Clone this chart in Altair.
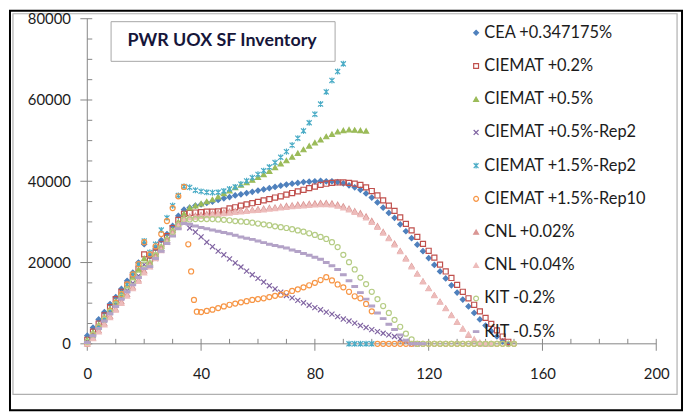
import altair as alt
import pandas as pd

# ---------------- data ----------------
SERIES = [
    "CEA +0.347175%", "CIEMAT +0.2%", "CIEMAT +0.5%", "CIEMAT +0.5%-Rep2",
    "CIEMAT +1.5%-Rep2", "CIEMAT +1.5%-Rep10", "CNL +0.02%", "CNL +0.04%",
    "KIT -0.2%", "KIT -0.5%",
]
STROKES = ["#4F81BD", "#C0504D", "#9BBB59", "#8064A2", "#4BACC6",
           "#F79646", "#DA9694", "#EDBCBB", "#B5CC84", "#B3A2C7"]
FILLS = ["#4F81BD", "transparent", "#9BBB59", "#8064A2", "#4BACC6",
         "transparent", "#DA9694", "#EDBCBB", "transparent", "#B3A2C7"]
X_PATH = "M-1,-1L1,1M-1,1L1,-1"
STAR_PATH = "M-1,-1L1,1M-1,1L1,-1M0,-1.2L0,1.2"
DASH_PATH = "M-1.1,-0.35L1.1,-0.35L1.1,0.35L-1.1,0.35Z"
SHAPES = ["diamond", "square", "triangle-up", X_PATH, STAR_PATH,
          "circle", "triangle-up", "triangle-up", "circle", DASH_PATH]

# values every 2 years starting at year 0
CEA = [2000, 4000, 6000, 7800, 9800, 11500, 13500, 15500, 17500, 20000, 24500, 21500,
       23500, 25500, 27000, 29000, 31500, 33000,
       33500, 34000, 34300, 34700, 35000, 35400, 35800, 36100, 36500, 36800, 37100, 37400,
       37700, 38000, 38300, 38600, 38900, 39200, 39400, 39600, 39800, 39900, 40000, 40100,
       40000, 40000, 39800, 39500, 39000, 38500, 37900, 37000, 36000, 34800, 33500, 32200,
       31000, 29400, 27700, 26000, 24400, 22800, 21100, 19400, 17800, 16100, 14400, 12600,
       10900, 9200, 7600, 6000, 4500, 3100, 1800, 600, 0]
CIEMAT_02 = [1000, 3000, 5000, 7000, 9000, 11000, 12800, 14500, 16500, 18500, 22000, 20500,
             22500, 24500, 26500, 28500, 30500, 32000,
             32200, 32300, 32400, 32500, 32500, 32600, 32800, 33300, 33600, 34000, 34300, 34600,
             34900, 35300, 35600, 36000, 36300, 36700, 37100, 37500, 37900, 38300, 38700, 39100,
             39400, 39600, 39700, 39700, 39600, 39400, 39100, 38500, 37600, 36500, 35300, 34000,
             32700, 31100, 29500, 27900, 26300, 24600, 22900, 21200, 19500, 17800, 16200, 14500,
             12800, 11200, 9600, 8000, 6400, 4900, 3300, 1800, 500]
CIEMAT_05 = [1000, 2800, 4700, 6600, 8600, 10500, 12400, 14300, 16300, 18300, 21000, 20000,
             22000, 24000, 26000, 28000, 30000, 32000,
             33500, 34000, 34500, 35000, 35500, 36200, 37000, 37700, 38500, 39100, 39700, 40300,
             41000, 41700, 42500, 43400, 44300, 45100, 46000, 46900, 47800, 48700, 49500, 50200,
             51000, 51600, 52200, 52500, 52700, 52600, 52500, 52400]
CIEMAT_05_REP2 = [500, 2300, 4100, 5900, 7700, 9500, 11300, 13100, 14900, 16700, 19500, 19000,
                  21000, 23000, 25000, 27000, 29000, 29800,
                  28500, 27500, 26300, 25000, 23900, 22800, 21900, 20900, 19900, 18900, 17900,
                  17000, 16100, 15200, 14300, 13500, 12700, 11900, 11300, 10700, 10100, 9500,
                  8900, 8400,
                  7800, 7300, 6700, 6100, 5600, 5100, 4500, 4000, 3500, 3000, 2600, 2200, 1800,
                  1200, 600, 0, 0]
CIEMAT_15_REP2 = [0, 2000, 4000, 6000, 8000, 10000, 12000, 14500, 17000, 19500, 25300, 22500,
                  24500, 28000, 31000, 34000, 36500, 38700,
                  38500, 37800, 37500, 37300, 37200, 37300, 37600, 38100, 38600, 39300, 40100,
                  40900, 41700, 42600, 43500, 44600, 45900, 47300, 48900, 50600, 52400, 54400,
                  56500, 59000,
                  62000, 64800, 67000, 68900, 0, 0, 0, 0, 0]
# Rep10: years 0..34, then a fast drop, then years 40..150
REP10_EARLY = [0, 2100, 4100, 6100, 8100, 10100, 12200, 14600, 17100, 19600, 25000, 22000,
               24000, 27000, 30200, 33400, 36300, 38600]
REP10_DROP_YEARS = [35.5, 36.5, 37.5, 38.5]
REP10_DROP = [24500, 17800, 10800, 7900]
REP10_LATE = [7800, 8100, 8400, 8800, 9200, 9600, 9900, 10200, 10500, 10800, 11000, 11200,
              11500, 11800, 12100, 12500, 13000, 13400, 13900, 14400, 15000, 15700, 16400,
              15600, 14600, 13900, 12800, 11700, 11200, 9800, 8000,
              0, 0, 0, 0, 0, 0, 0, 0, 0, 0, 0, 0, 0, 0, 0, 0, 0, 0, 0, 0, 0, 0, 0, 0, 0]
CNL_002 = [0, 1500, 3300, 5000, 6800, 8600, 10400, 12200, 14000, 15800, 18000, 19500,
           21500, 23500, 25500, 27500, 29500, 31000,
           31400, 31600, 31800, 32000, 32100, 32300, 32400, 32600, 32700, 32800, 32900, 33000,
           33200, 33300, 33500, 33600, 33800, 34000, 34100, 34300, 34400, 34500, 34600, 34700,
           34700, 34600, 34300, 33900, 33300, 32700, 32200, 31400, 30300, 29000, 27600, 26100,
           24700, 22900, 21100, 19200, 17300, 15400, 13700, 12000, 10400, 8800, 7100, 5400,
           3700, 2200, 1000, 200, 0]
CNL_004 = [0, 1300, 3000, 4700, 6500, 8300, 10000, 11800, 13600, 15400, 17500, 19000,
           21000, 23000, 25000, 27000, 29000, 30500,
           31000, 31200, 31400, 31600, 31800, 31900, 32100, 32200, 32400, 32500, 32600, 32800,
           32900, 33000, 33200, 33300, 33500, 33600, 33800, 33900, 34000, 34100, 34200, 34300,
           34300, 34200, 33900, 33500, 33000, 32400, 31800, 31000, 29900, 28700, 27300, 25900,
           24400, 22700, 20900, 19000, 17200, 15300, 13600, 11900, 10300, 8700, 7000, 5400,
           3800, 2400, 1200, 400, 0, 0]
KIT_02 = [500, 2300, 4200, 6000, 7900, 9700, 11600, 13400, 15300, 17100, 19500, 19800,
          21800, 23700, 25600, 27500, 29300, 30500,
          30600, 30700, 30700, 30700, 30700, 30600, 30500, 30400, 30200, 30100, 30000, 29800,
          29600, 29400, 29200, 28900, 28700, 28500, 28200, 27900, 27600, 27200, 26800, 26300,
          25800, 25000, 23800, 21900, 20100, 18300, 16300, 14700, 12800, 11000, 9300, 7600,
          5900, 4200, 2500, 1100, 0,
          0, 0, 0, 0, 0, 0, 0, 0, 0, 0, 0, 0, 0, 0, 0, 0, 0]
KIT_05 = [300, 2000, 3800, 5600, 7400, 9200, 11000, 12800, 14500, 16300, 18500, 19000,
          21000, 22800, 24700, 26500, 28300, 29600,
          29400, 29000, 28600, 28300, 28000, 27700, 27400, 27100, 26700, 26300, 26000, 25700,
          25300, 24900, 24500, 24200, 23900, 23600, 23100, 22700, 22200, 21800, 21300, 20800,
          20000, 19200, 18300, 17000, 15500, 14100, 12600, 11000, 9300, 7600, 6200, 4800,
          3500, 2200, 900, 0, 0, 0]

X_TICKS = [0, 40, 80, 120, 160, 200]
X_MINOR = [10, 20, 30, 50, 60, 70, 90, 100, 110, 130, 140, 150, 170, 180, 190]
Y_TICKS = [0, 20000, 40000, 60000, 80000]
Y_MINOR = [5000, 10000, 15000, 25000, 30000, 35000, 45000, 50000, 55000, 65000, 70000, 75000]
TITLE = "PWR UOX SF Inventory"

# ---------------- build the table ----------------
rows = []
def add(name, years, values):
    for t, v in zip(years, values):
        rows.append({"series": name, "t": t, "v": v})

def every2(values, start=0):
    return [start + 2 * i for i in range(len(values))]

add(SERIES[0], every2(CEA), CEA)
add(SERIES[1], every2(CIEMAT_02), CIEMAT_02)
add(SERIES[2], every2(CIEMAT_05), CIEMAT_05)
add(SERIES[3], every2(CIEMAT_05_REP2), CIEMAT_05_REP2)
add(SERIES[4], every2(CIEMAT_15_REP2), CIEMAT_15_REP2)
add(SERIES[5], every2(REP10_EARLY), REP10_EARLY)
add(SERIES[5], REP10_DROP_YEARS, REP10_DROP)
add(SERIES[5], every2(REP10_LATE, 40), REP10_LATE)
add(SERIES[6], every2(CNL_002), CNL_002)
add(SERIES[7], every2(CNL_004), CNL_004)
add(SERIES[8], every2(KIT_02), KIT_02)
add(SERIES[9], every2(KIT_05), KIT_05)
df = pd.DataFrame(rows)

W, H = 574, 328
FONT = "Lato"
TXT = "#1c1c1c"
GREY = "#868686"

xscale = alt.Scale(domain=[0, 200], nice=False, zero=False)
yscale = alt.Scale(domain=[0, 80000], nice=False)
xaxis = alt.Axis(values=X_TICKS, ticks=False, domain=False, grid=False, title=None,
                 labelFont=FONT, labelFontSize=15, labelColor=TXT, labelPadding=23,
                 labelFlush=False, zindex=2)
yaxis = alt.Axis(values=Y_TICKS, ticks=False, domain=False, grid=False, title=None,
                 labelFont=FONT, labelFontSize=15, labelColor=TXT, labelPadding=17,
                 labelFlush=False, format="d", zindex=2)

leg = alt.Legend(orient="none", legendX=384, legendY=6, title=None, labelFont=FONT,
                 labelFontSize=16.5, labelColor=TXT, rowPadding=16.5, symbolSize=24,
                 labelOffset=0, padding=0, symbolStrokeWidth=1.2, labelLimit=400)

# frames and title box
frame_outer = alt.Chart(pd.DataFrame({"k": [0]})).mark_rect(
    fill="white", stroke="black", strokeWidth=2).encode(
    x=alt.value(-78), x2=alt.value(600), y=alt.value(-8), y2=alt.value(395))
frame_inner = alt.Chart(pd.DataFrame({"k": [0]})).mark_rect(
    fill="white", stroke="#b0b0b0", strokeWidth=1.2).encode(
    x=alt.value(-75), x2=alt.value(595), y=alt.value(-5), y2=alt.value(379))

# axis lines and ticks
axis_y_line = alt.Chart(pd.DataFrame({"k": [0]})).mark_rule(color=GREY).encode(
    x=alt.value(0), y=alt.value(0), y2=alt.value(H))
axis_x_line = alt.Chart(pd.DataFrame({"k": [0]})).mark_rule(color=GREY).encode(
    x=alt.value(0), x2=alt.value(W), y=alt.value(H))
ymaj = alt.Chart(pd.DataFrame({"v": Y_TICKS})).mark_rule(color=GREY).encode(
    y=alt.Y("v:Q", scale=yscale, axis=yaxis), x=alt.value(-7), x2=alt.value(5))
ymin = alt.Chart(pd.DataFrame({"v": Y_MINOR})).mark_rule(color=GREY).encode(
    y=alt.Y("v:Q", scale=yscale, axis=yaxis), x=alt.value(0), x2=alt.value(5))
xmaj = alt.Chart(pd.DataFrame({"t": X_TICKS})).mark_rule(color=GREY).encode(
    x=alt.X("t:Q", scale=xscale, axis=xaxis), y=alt.value(H - 5), y2=alt.value(H + 7))
xmin = alt.Chart(pd.DataFrame({"t": X_MINOR})).mark_rule(color=GREY).encode(
    x=alt.X("t:Q", scale=xscale, axis=xaxis), y=alt.value(H - 5), y2=alt.value(H))

points = alt.Chart(df).mark_point(size=26, strokeWidth=1.2, opacity=1).encode(
    x=alt.X("t:Q", scale=xscale, axis=xaxis),
    y=alt.Y("v:Q", scale=yscale, axis=yaxis),
    shape=alt.Shape("series:N", scale=alt.Scale(domain=SERIES, range=SHAPES), legend=leg),
    fill=alt.Fill("series:N", scale=alt.Scale(domain=SERIES, range=FILLS), legend=leg),
    stroke=alt.Stroke("series:N", scale=alt.Scale(domain=SERIES, range=STROKES), legend=leg),
)

title_box = alt.Chart(pd.DataFrame({"k": [0]})).mark_rect(
    fill="white", stroke="#a6a6a6", strokeWidth=1).encode(
    x=alt.value(24), x2=alt.value(250), y=alt.value(3), y2=alt.value(43))
title_text = alt.Chart(pd.DataFrame({"label": [TITLE]})).mark_text(
    font=FONT, fontSize=18, fontWeight="bold", color="#16163a",
    align="center", baseline="middle").encode(
    text="label:N", x=alt.value(136), y=alt.value(23))

chart = alt.layer(
    frame_outer, frame_inner, axis_x_line, axis_y_line, ymaj, ymin, xmaj, xmin,
    points, title_box, title_text
).properties(
    width=W, height=H,
    autosize=alt.AutoSizeParams(type="none"),
    padding={"left": 80, "top": 9, "right": 28, "bottom": 69},
    background="white",
).configure_view(stroke=None)

chart.save("out.html", embed_options={"renderer": "svg", "actions": False})
